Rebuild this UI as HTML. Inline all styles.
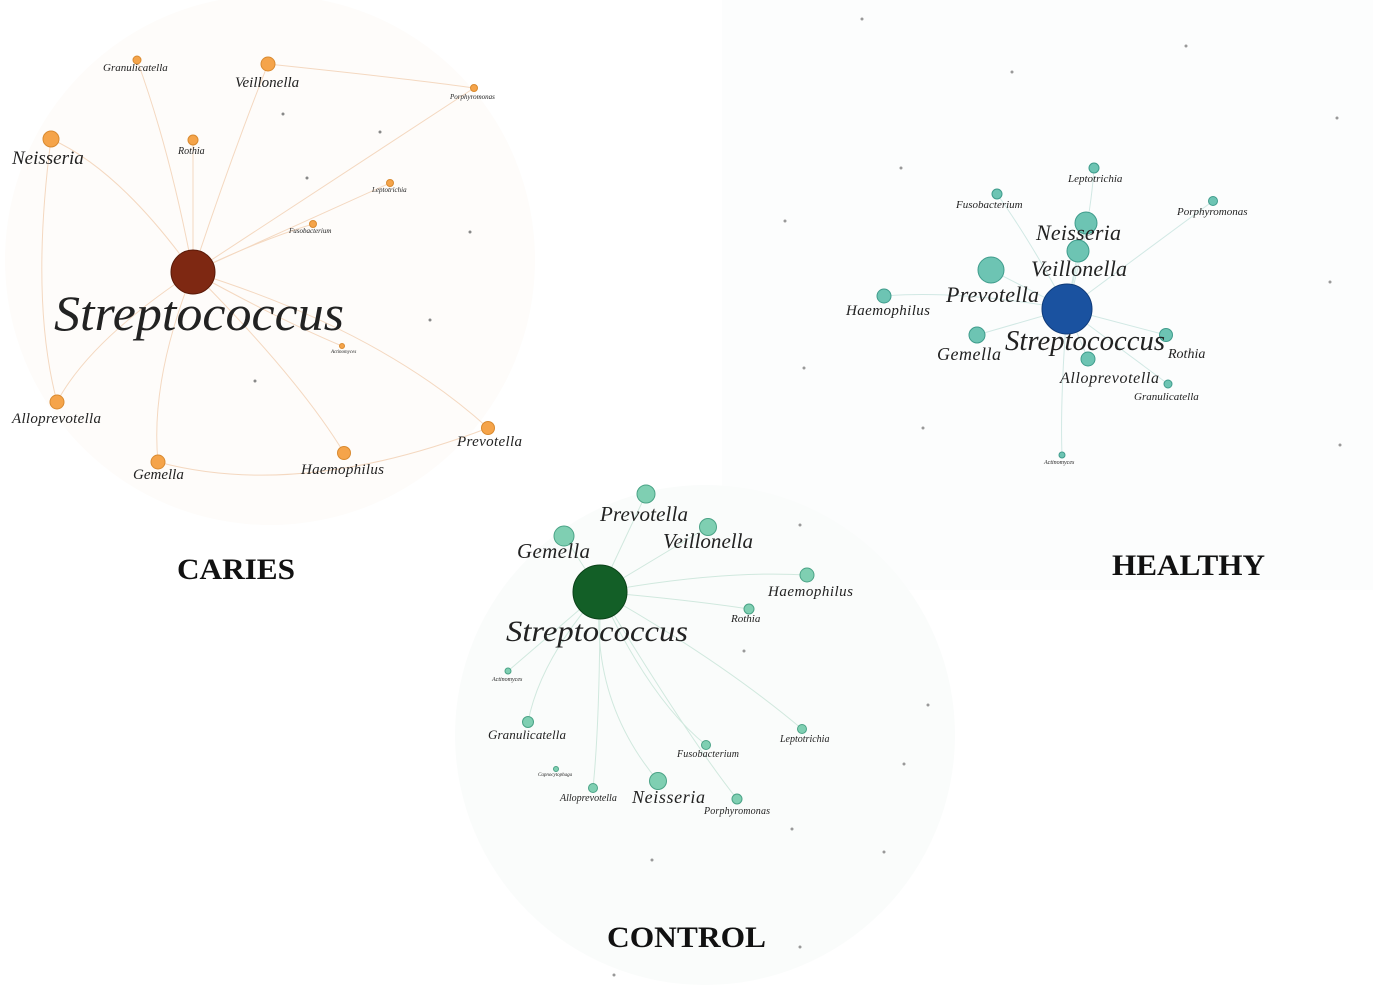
<!DOCTYPE html>
<html><head><meta charset="utf-8"><style>
html,body{margin:0;padding:0;background:#fff;}
svg{display:block;font-family:"Liberation Serif",serif;}
.it{font-style:italic;fill:#222;}
.t{font-weight:bold;fill:#111;}
</style></head><body>
<svg width="1373" height="999" viewBox="0 0 1373 999" xmlns="http://www.w3.org/2000/svg">
<circle cx="270" cy="260" r="265" fill="#fefcfa"/>
<rect x="722" y="0" width="651" height="590" fill="#fcfdfd"/>
<circle cx="705" cy="735" r="250" fill="#fafcfb"/>

<g stroke="#f0c9a8" stroke-width="1" fill="none" opacity="0.7">
<path d="M193 272 Q120 170 51 139"/><path d="M193 272 Q230 160 268 64"/><path d="M193 272 Q170 150 137 60"/>
<path d="M193 272 L193 140"/><path d="M193 272 Q90 340 57 402"/><path d="M193 272 Q150 380 158 462"/>
<path d="M193 272 Q300 380 344 453"/><path d="M193 272 Q380 330 488 428"/><path d="M193 272 Q330 210 390 183"/>
<path d="M193 272 Q260 240 313 224"/><path d="M193 272 Q380 150 474 88"/><path d="M193 272 Q280 320 342 346"/>
<path d="M51 139 Q30 300 57 402"/><path d="M268 64 Q420 80 474 88"/><path d="M158 462 Q300 500 488 428"/>
</g>
<g fill="#888">
<circle cx="283" cy="114" r="1.5"/><circle cx="380" cy="132" r="1.5"/><circle cx="307" cy="178" r="1.5"/><circle cx="430" cy="320" r="1.5"/><circle cx="255" cy="381" r="1.5"/><circle cx="470" cy="232" r="1.5"/>
</g>
<g fill="#f5a44a" stroke="#d98a30" stroke-width="1">
<circle cx="51" cy="139" r="8"/><circle cx="268" cy="64" r="7"/><circle cx="137" cy="60" r="4"/><circle cx="193" cy="140" r="5"/>
<circle cx="474" cy="88" r="3.5"/><circle cx="390" cy="183" r="3.5"/><circle cx="313" cy="224" r="3.5"/><circle cx="342" cy="346" r="2.5"/>
<circle cx="57" cy="402" r="7"/><circle cx="158" cy="462" r="7"/><circle cx="344" cy="453" r="6.5"/><circle cx="488" cy="428" r="6.5"/>
</g>
<circle cx="193" cy="272" r="22" fill="#7e2812" stroke="#5a1a08"/>
<text class="it" x="12" y="164" font-size="19">Neisseria</text>
<text class="it" x="235" y="87" font-size="15">Veillonella</text>
<text class="it" x="103" y="71" font-size="11">Granulicatella</text>
<text class="it" x="178" y="154" font-size="10">Rothia</text>
<text class="it" x="450" y="99" font-size="7">Porphyromonas</text>
<text class="it" x="372" y="192" font-size="7">Leptotrichia</text>
<text class="it" x="289" y="233" font-size="7">Fusobacterium</text>
<text class="it" x="331" y="353" font-size="5">Actinomyces</text>
<text class="it" x="54" y="330" font-size="50" textLength="290" lengthAdjust="spacingAndGlyphs">Streptococcus</text>
<text class="it" x="12" y="423" font-size="15" textLength="89">Alloprevotella</text>
<text class="it" x="133" y="479" font-size="15">Gemella</text>
<text class="it" x="301" y="474" font-size="15" textLength="83">Haemophilus</text>
<text class="it" x="457" y="446" font-size="15" textLength="65">Prevotella</text>
<text class="t" x="177" y="579" font-size="30" textLength="118" lengthAdjust="spacingAndGlyphs">CARIES</text>

<g stroke="#bfe0da" stroke-width="1" fill="none" opacity="0.7">
<path d="M1067 309 L991 270"/><path d="M1067 309 L1078 251"/><path d="M1067 309 L1086 223"/><path d="M1067 309 Q960 290 884 296"/>
<path d="M1067 309 L977 335"/><path d="M1067 309 L1088 359"/><path d="M1067 309 L1166 335"/><path d="M1067 309 Q1030 240 997 194"/>
<path d="M1067 309 Q1090 230 1094 168"/><path d="M1067 309 Q1160 240 1213 201"/><path d="M1067 309 L1168 384"/><path d="M1067 309 Q1060 400 1062 455"/>
</g>
<g fill="#6dc4b3" stroke="#3f9c8c" stroke-width="1">
<circle cx="1094" cy="168" r="5"/><circle cx="997" cy="194" r="5"/><circle cx="1213" cy="201" r="4.5"/><circle cx="1086" cy="223" r="11"/>
<circle cx="1078" cy="251" r="11"/><circle cx="991" cy="270" r="13"/><circle cx="884" cy="296" r="7"/><circle cx="977" cy="335" r="8"/>
<circle cx="1166" cy="335" r="6.5"/><circle cx="1088" cy="359" r="7"/><circle cx="1168" cy="384" r="4"/><circle cx="1062" cy="455" r="3"/>
</g>
<circle cx="1067" cy="309" r="25" fill="#1a52a0" stroke="#0f3a78"/>
<g fill="#999"><circle cx="862" cy="19" r="1.5"/><circle cx="1012" cy="72" r="1.5"/><circle cx="1186" cy="46" r="1.5"/><circle cx="1337" cy="118" r="1.5"/><circle cx="901" cy="168" r="1.5"/><circle cx="785" cy="221" r="1.5"/><circle cx="1330" cy="282" r="1.5"/><circle cx="804" cy="368" r="1.5"/><circle cx="923" cy="428" r="1.5"/><circle cx="1340" cy="445" r="1.5"/></g>
<text class="it" x="1068" y="182" font-size="11">Leptotrichia</text>
<text class="it" x="956" y="208" font-size="11">Fusobacterium</text>
<text class="it" x="1177" y="215" font-size="11">Porphyromonas</text>
<text class="it" x="1036" y="240" font-size="22" textLength="85">Neisseria</text>
<text class="it" x="1031" y="276" font-size="22" textLength="96">Veillonella</text>
<text class="it" x="946" y="302" font-size="22" textLength="93">Prevotella</text>
<text class="it" x="846" y="315" font-size="15" textLength="84">Haemophilus</text>
<text class="it" x="1005" y="350" font-size="28" textLength="160" lengthAdjust="spacingAndGlyphs">Streptococcus</text>
<text class="it" x="937" y="360" font-size="18" textLength="64">Gemella</text>
<text class="it" x="1168" y="358" font-size="14">Rothia</text>
<text class="it" x="1060" y="383" font-size="16" textLength="99">Alloprevotella</text>
<text class="it" x="1134" y="400" font-size="11">Granulicatella</text>
<text class="it" x="1044" y="464" font-size="6">Actinomyces</text>
<text class="t" x="1112" y="575" font-size="30" textLength="153" lengthAdjust="spacingAndGlyphs">HEALTHY</text>

<g stroke="#bfe0d2" stroke-width="1" fill="none" opacity="0.7">
<path d="M600 592 L646 494"/><path d="M600 592 L564 536"/><path d="M600 592 L708 527"/><path d="M600 592 Q720 570 807 575"/>
<path d="M600 592 Q690 600 749 609"/><path d="M600 592 Q540 660 528 722"/><path d="M600 592 Q590 700 658 781"/><path d="M600 592 Q650 700 706 745"/>
<path d="M600 592 Q720 660 802 729"/><path d="M600 592 Q600 720 593 788"/><path d="M600 592 Q690 740 737 799"/><path d="M600 592 L508 671"/>
</g>
<g fill="#7fcfb2" stroke="#4aa386" stroke-width="1">
<circle cx="646" cy="494" r="9"/><circle cx="564" cy="536" r="10"/><circle cx="708" cy="527" r="8.5"/><circle cx="807" cy="575" r="7"/>
<circle cx="749" cy="609" r="5"/><circle cx="508" cy="671" r="3"/><circle cx="528" cy="722" r="5.5"/><circle cx="802" cy="729" r="4.5"/>
<circle cx="706" cy="745" r="4.5"/><circle cx="658" cy="781" r="8.5"/><circle cx="593" cy="788" r="4.5"/><circle cx="737" cy="799" r="5"/><circle cx="556" cy="769" r="2.5"/>
</g>
<circle cx="600" cy="592" r="27" fill="#135f27" stroke="#0b4219"/>
<g fill="#999"><circle cx="800" cy="525" r="1.5"/><circle cx="744" cy="651" r="1.5"/><circle cx="928" cy="705" r="1.5"/><circle cx="904" cy="764" r="1.5"/><circle cx="792" cy="829" r="1.5"/><circle cx="652" cy="860" r="1.5"/><circle cx="884" cy="852" r="1.5"/><circle cx="800" cy="947" r="1.5"/><circle cx="614" cy="975" r="1.5"/></g>
<text class="it" x="600" y="521" font-size="21" textLength="88">Prevotella</text>
<text class="it" x="517" y="558" font-size="21" textLength="73">Gemella</text>
<text class="it" x="663" y="548" font-size="21" textLength="90">Veillonella</text>
<text class="it" x="768" y="596" font-size="15" textLength="85">Haemophilus</text>
<text class="it" x="731" y="622" font-size="11">Rothia</text>
<text class="it" x="506" y="641" font-size="30" textLength="182" lengthAdjust="spacingAndGlyphs">Streptococcus</text>
<text class="it" x="492" y="681" font-size="6">Actinomyces</text>
<text class="it" x="488" y="739" font-size="13" textLength="78">Granulicatella</text>
<text class="it" x="780" y="742" font-size="10">Leptotrichia</text>
<text class="it" x="677" y="757" font-size="10" textLength="62">Fusobacterium</text>
<text class="it" x="538" y="776" font-size="5">Capnocytophaga</text>
<text class="it" x="560" y="801" font-size="10">Alloprevotella</text>
<text class="it" x="632" y="803" font-size="18" textLength="73">Neisseria</text>
<text class="it" x="704" y="814" font-size="10" textLength="66">Porphyromonas</text>
<text class="t" x="607" y="947" font-size="30" textLength="159" lengthAdjust="spacingAndGlyphs">CONTROL</text>
</svg>
</body></html>
